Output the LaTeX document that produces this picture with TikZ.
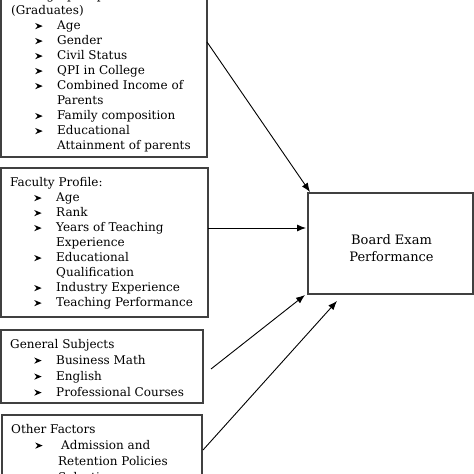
\documentclass[tikz,border=0pt]{standalone}
\usepackage{fontspec}
\setmainfont{DejaVu Serif}
\usetikzlibrary{arrows.meta}
\newcommand\bul{\tikz[baseline=0pt,x=1bp,y=1bp]\fill (0,0.3)--(7.5,3.4)--(0,6.5)--(2.4,3.4)--cycle;}
\newcommand\itm{\hspace*{24bp}\makebox[22bp][l]{\bul}}
\newcommand\cnt{\hspace*{46bp}}
\begin{document}
\begin{tikzpicture}[x=1bp,y=-1bp,
  box/.style={draw=black!75,line width=1.1bp,inner sep=0,outer sep=0,anchor=north west},
  txt/.style={anchor=base west,inner sep=0,font=\fontsize{12bp}{15bp}\selectfont},
  ctxt/.style={anchor=base,inner sep=0,font=\fontsize{13bp}{15bp}\selectfont},
  arr/.style={-{Latex[length=9bp,width=7bp]},line width=0.9bp}]
\useasboundingbox (0,0) rectangle (474,474);
\clip (0,0) rectangle (474,474);
\fill[white] (0,0) rectangle (474,474);
% boxes
\node[box,minimum width=206bp,minimum height=173bp] (d1) at (1,-16) {};
\node[box,minimum width=207bp,minimum height=149bp] (fac) at (1,168) {};
\node[box,minimum width=202bp,minimum height=73bp] (gen) at (1,330) {};
\node[box,minimum width=200bp,minimum height=90bp] (oth) at (2,415) {};
\node[box,minimum width=165bp,minimum height=101bp] (bep) at (308,193) {};
% box 1 text
\foreach \t [count=\i] in {Demographic profile,(Graduates),\itm Age,\itm Gender,\itm Civil Status,\itm QPI in College,\itm Combined Income of,\cnt Parents,\itm Family composition,\itm Educational,\cnt Attainment of parents}
  \node[txt] (d1t\i) at (11,{-15.5+15*\i}) {\t};
% box 2 text
\foreach \t [count=\i] in {Faculty Profile:,\itm Age,\itm Rank,\itm Years of Teaching,\cnt Experience,\itm Educational,\cnt Qualification,\itm Industry Experience,\itm Teaching Performance}
  \node[txt] (fact\i) at (10,{171.5+15*\i}) {\t};
% box 3 text
\foreach \t [count=\i] in {General Subjects,\itm Business Math,\itm English,\itm Professional Courses}
  \node[txt] (gent\i) at (10,{332+16*\i}) {\t};
% box 4 text
\foreach \t [count=\i] in {Other Factors,\itm\hspace*{4bp}Admission and,\cnt\hspace*{1bp}Retention Policies,\cnt\hspace*{1bp}Selection}
  \node[txt] (otht\i) at (11,{417+16*\i}) {\t};
% board text
\node[ctxt] (bept1) at (391.5,244) {Board Exam};
\node[ctxt] (bept2) at (391.5,261) {Performance};
% arrows
\coordinate (t3) at ([shift={(-3,1)}]bep.south west);
\coordinate (t4) at ([shift={(29,7)}]bep.south west);
\draw[arr] (d1.east |- 0,42) -- ([shift={(2,-1)}]bep.north west);
\draw[arr] (fac.east |- 0,228) -- ([xshift=-2bp]bep.west |- 0,228);
\draw[arr] ([xshift=8bp]gen.east |- 0,369) -- (t3);
\draw[arr] ([xshift=1bp]oth.east |- 0,450) -- (t4);
\end{tikzpicture}
\end{document}
